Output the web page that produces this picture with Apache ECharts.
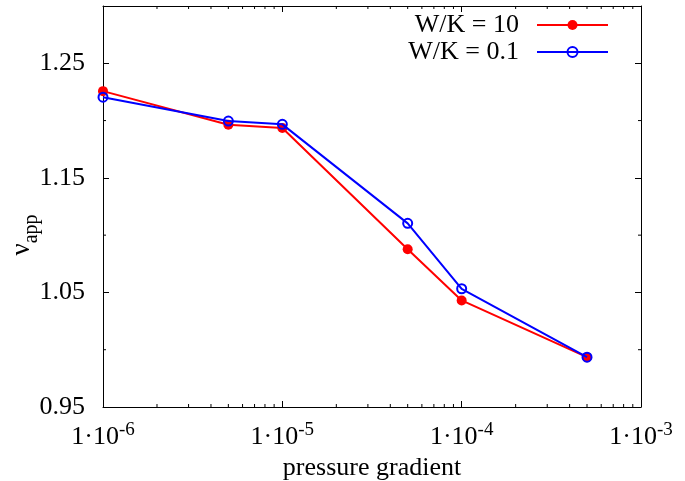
<!DOCTYPE html>
<html><head><meta charset="utf-8">
<script src="https://cdn.jsdelivr.net/npm/echarts@6/dist/echarts.min.js"></script>
<style>html,body{margin:0;padding:0;background:#fff}#c{width:685px;height:481px}</style>
</head><body><div id="c"></div>
<script>
const xValues = [1e-6, 5e-6, 1e-5, 5e-5, 1e-4, 5e-4];
const seriesNames = ['W/K = 10', 'W/K = 0.1'];
const redValues = [1.2257, 1.1964, 1.1935, 1.0877, 1.0430, 0.9935];
const blueValues = [1.2204, 1.1996, 1.1967, 1.1103, 1.0532, 0.9935];
const yTickLabels = [0.95, 1.05, 1.15, 1.25];
const yMinorTicks = [1.00, 1.10, 1.20];
const xTickExponents = [-6, -5, -4, -3];
const xMinorTicks = [2e-6, 3e-6, 4e-6, 5e-6, 6e-6, 7e-6, 8e-6, 9e-6,
                     2e-5, 3e-5, 4e-5, 5e-5, 6e-5, 7e-5, 8e-5, 9e-5,
                     2e-4, 3e-4, 4e-4, 5e-4, 6e-4, 7e-4, 8e-4, 9e-4];
const xLabel = 'pressure gradient';

const FONT = 'Liberation Serif';
const XMIN = 1e-6, XMAX = 1e-3, YMIN = 0.95, YMAX = 1.30;

const chart = echarts.init(document.getElementById('c'), null, {renderer: 'canvas'});

function xFmt(v) {
  const e = Math.round(Math.log10(v));
  if (xTickExponents.indexOf(e) < 0) return '';
  return '{b|1·10}{sup|' + e + '}';
}
function yFmt(v) {
  for (const t of yTickLabels) if (Math.abs(t - v) < 1e-6) return t.toFixed(2);
  return '';
}

const axisLineStyle = {show: true, lineStyle: {color: '#000', width: 1}};
const baseX = {
  type: 'log', logBase: 10, min: XMIN, max: XMAX,
  axisLine: axisLineStyle, splitLine: {show: false},
  axisTick: {show: true, inside: true, length: 6, lineStyle: {color: '#000'}},
  minorTick: {show: false}
};
const baseY = {
  type: 'value', min: YMIN, max: YMAX, interval: 0.1,
  axisLine: axisLineStyle, splitLine: {show: false},
  axisTick: {show: true, inside: true, length: 6, lineStyle: {color: '#000'}}
};

const minorData = [];
xMinorTicks.forEach(v => minorData.push([v, YMIN, 0]));
yMinorTicks.forEach(v => minorData.push([XMIN, v, 1]));

const option = {
  animation: false,
  backgroundColor: '#fff',
  grid: {left: 103, right: 44, top: 6, bottom: 74, containLabel: false, outerBoundsMode: 'none'},
  xAxis: [
    Object.assign({}, baseX, {
      position: 'bottom',
      axisLabel: {
        margin: 14, formatter: xFmt, color: '#000',
        rich: {
          b: {fontFamily: FONT, fontSize: 26, lineHeight: 32, color: '#000'},
          sup: {fontFamily: FONT, fontSize: 19, lineHeight: 16, verticalAlign: 'top', color: '#000'}
        }
      },
      name: xLabel, nameLocation: 'middle', nameGap: 43,
      nameTextStyle: {fontFamily: FONT, fontSize: 26, color: '#000'}
    }),
    Object.assign({}, baseX, {position: 'top', axisLabel: {show: false}})
  ],
  yAxis: [
    Object.assign({}, baseY, {
      position: 'left',
      axisLabel: {margin: 18, formatter: yFmt, fontFamily: FONT, fontSize: 26, color: '#000'}
    }),
    Object.assign({}, baseY, {position: 'right', axisLabel: {show: false}})
  ],
  legend: [
    {
      data: [seriesNames[0]], orient: 'vertical', align: 'right',
      right: 76, top: 12, padding: 0, itemWidth: 71, itemHeight: 12.5,
      textStyle: {fontFamily: FONT, fontSize: 26, color: '#000', lineHeight: 26, padding: [0, 13, 0, 0]}
    },
    {
      data: [seriesNames[1]], orient: 'vertical', align: 'right',
      right: 76, top: 39, padding: 0, itemWidth: 71, itemHeight: 12.5,
      textStyle: {fontFamily: FONT, fontSize: 26, color: '#000', lineHeight: 26, padding: [0, 13, 0, 0]}
    }
  ],
  graphic: [{
    type: 'text', x: 21, y: 235, rotation: Math.PI / 2,
    style: {
      text: '{n|ν}{s|app}', align: 'center', verticalAlign: 'middle',
      rich: {
        n: {fontFamily: FONT, fontSize: 27, lineHeight: 26, verticalAlign: 'top', fill: '#000'},
        s: {fontFamily: FONT, fontSize: 20, lineHeight: 20, padding: [14, 0, 0, 0], verticalAlign: 'top', fill: '#000'}
      }
    }
  }],
  series: [
    {
      type: 'custom', silent: true, clip: false, z: 5,
      data: minorData,
      renderItem: function (params, api) {
        const kind = api.value(2);
        if (kind === 0) {
          const b = api.coord([api.value(0), YMIN]);
          const t = api.coord([api.value(0), YMAX]);
          return {type: 'group', children: [
            {type: 'line', shape: {x1: b[0], y1: b[1], x2: b[0], y2: b[1] - 3}, style: {stroke: '#000', lineWidth: 1}},
            {type: 'line', shape: {x1: t[0], y1: t[1], x2: t[0], y2: t[1] + 3}, style: {stroke: '#000', lineWidth: 1}}
          ]};
        } else {
          const l = api.coord([XMIN, api.value(1)]);
          const r = api.coord([XMAX, api.value(1)]);
          return {type: 'group', children: [
            {type: 'line', shape: {x1: l[0], y1: l[1], x2: l[0] + 3, y2: l[1]}, style: {stroke: '#000', lineWidth: 1}},
            {type: 'line', shape: {x1: r[0], y1: r[1], x2: r[0] - 3, y2: r[1]}, style: {stroke: '#000', lineWidth: 1}}
          ]};
        }
      }
    },
    {
      name: seriesNames[0], type: 'line', clip: false, z: 3,
      data: xValues.map((x, i) => [x, redValues[i]]),
      symbol: 'circle', symbolSize: 10,
      lineStyle: {color: '#ff0000', width: 2},
      itemStyle: {color: '#ff0000'}
    },
    {
      name: seriesNames[1], type: 'line', clip: false, z: 4,
      data: xValues.map((x, i) => [x, blueValues[i]]),
      symbol: 'circle', symbolSize: 9,
      lineStyle: {color: '#0000ff', width: 2},
      itemStyle: {color: 'rgba(0,0,0,0)', borderColor: '#0000ff', borderWidth: 2}
    }
  ]
};
chart.setOption(option);
</script>
</body></html>
